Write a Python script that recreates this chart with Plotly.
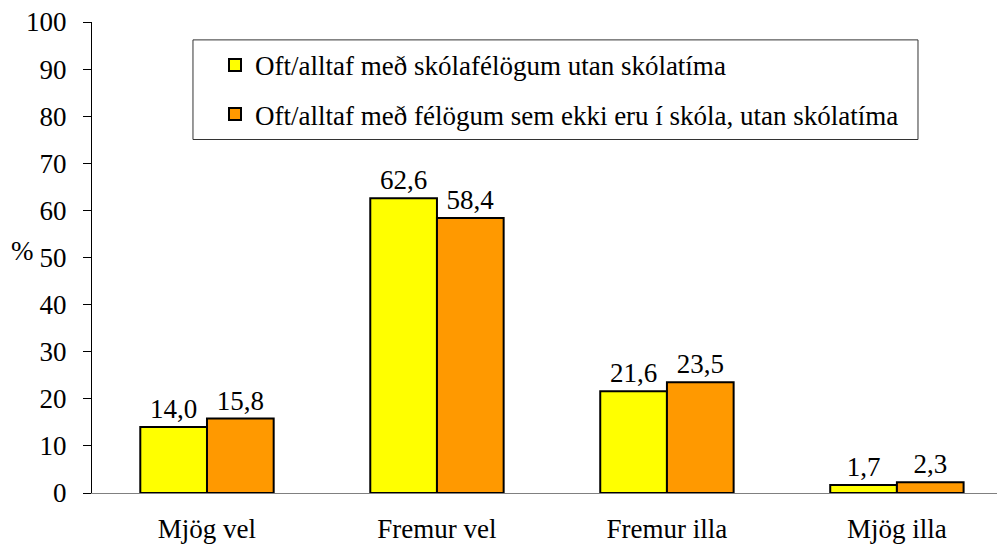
import plotly.graph_objects as go

categories = ["Mjög vel", "Fremur vel", "Fremur illa", "Mjög illa"]
series_names = [
    "Oft/alltaf með skólafélögum utan skólatíma",
    "Oft/alltaf með félögum sem ekki eru í skóla, utan skólatíma",
]
school_friends = [14.0, 62.6, 21.6, 1.7]
other_friends = [15.8, 58.4, 23.5, 2.3]
colors = ["#FFFF00", "#FF9900"]
y_ticks = [0, 10, 20, 30, 40, 50, 60, 70, 80, 90, 100]

FONT = "Times New Roman"
FS = 27

fig = go.Figure()
for i, (name, vals) in enumerate(zip(series_names, [school_friends, other_friends])):
    fig.add_trace(go.Bar(
        x=categories, y=vals, name=name,
        marker=dict(color=colors[i], line=dict(color="black", width=2)),
        texttemplate="%{y:.1f}", textposition="outside",
        textfont=dict(family=FONT, size=FS, color="black"),
        cliponaxis=False,
        legendgroup=f"g{i}",
    ))

fig.add_annotation(
    text="%", xref="paper", yref="paper", x=-0.0756, y=0.514,
    xanchor="center", yanchor="middle", showarrow=False,
    font=dict(family=FONT, size=FS, color="black"),
)

# legend frame
fig.add_shape(
    type="rect", xref="paper", yref="paper",
    x0=0.1106, x1=0.9047, y0=0.7505, y1=0.962,
    line=dict(color="#333333", width=1), fillcolor="white", layer="below",
)

fig.update_layout(
    width=997, height=539,
    separators=", ",
    paper_bgcolor="white", plot_bgcolor="white",
    margin=dict(l=84, r=0, t=14, b=54),
    barmode="group", bargap=0.42, bargroupgap=0,
    font=dict(family=FONT, size=FS, color="black"),
    showlegend=True,
    legend=dict(
        x=0.1347, y=0.9600, xanchor="left", yanchor="top",
        bgcolor="rgba(0,0,0,0)", borderwidth=0,
        font=dict(family=FONT, size=FS, color="black"),
        traceorder="grouped", tracegroupgap=11,
    ),
    xaxis=dict(
        range=[-0.5, 3.47], showline=True, linecolor="#808080", linewidth=1,
        ticks="", showgrid=False, tickfont=dict(family=FONT, size=FS),
        automargin=False, ticklabelstandoff=12, ticklabeloverflow="allow",
    ),
    yaxis=dict(
        range=[0, 100], tickvals=y_ticks, showline=True, linecolor="black",
        linewidth=1, ticks="outside", ticklen=8, tickcolor="black",
        showgrid=False, zeroline=False, tickfont=dict(family=FONT, size=FS),
        automargin=False, ticklabelstandoff=11, ticklabeloverflow="allow",
    ),
)

fig.write_html("out.html")
